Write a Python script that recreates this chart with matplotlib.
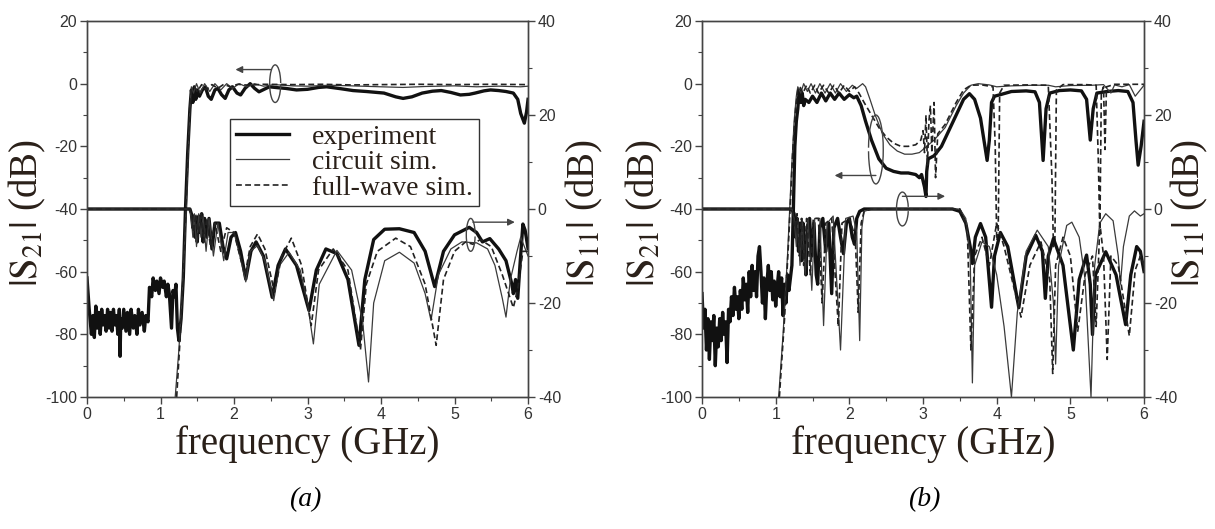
import numpy as np
import matplotlib.pyplot as plt
from matplotlib.patches import Arc
from matplotlib.ticker import MultipleLocator
from matplotlib.lines import Line2D

plt.rcParams['mathtext.fontset'] = 'stix'
plt.rcParams['axes.unicode_minus'] = False
SERIF = 'Liberation Serif'
SANS = 'Liberation Sans'
TXT = '#2a2019'

# ---------------- panel (a) ----------------
# |S21| (left axis, dB)
a_s21_exp_f = [0.00, 0.03, 0.06, 0.08, 0.10, 0.12, 0.14, 0.16, 0.18, 0.20, 0.22, 0.24, 0.26, 0.28, 0.30,
               0.32, 0.34, 0.36, 0.38, 0.40, 0.42, 0.44, 0.45, 0.46, 0.48, 0.50, 0.53, 0.55, 0.58, 0.60,
               0.63, 0.65, 0.68, 0.70, 0.72, 0.75, 0.78, 0.80, 0.83, 0.85, 0.88, 0.90, 0.93, 0.95, 0.98,
               1.00, 1.03, 1.05, 1.08, 1.10, 1.12, 1.15, 1.17, 1.19, 1.21, 1.23, 1.25, 1.28, 1.31, 1.34,
               1.37, 1.40, 1.42, 1.44, 1.46, 1.48, 1.50, 1.53, 1.57, 1.61, 1.65, 1.69, 1.74, 1.78, 1.83,
               1.88, 1.93, 1.98, 2.04, 2.09, 2.15, 2.22, 2.28, 2.34, 2.41, 2.48, 2.60, 2.70, 2.85, 3.00,
               3.15, 3.26, 3.45, 3.62, 3.80, 4.04, 4.20, 4.30, 4.42, 4.56, 4.70, 4.82, 4.95, 5.08, 5.20,
               5.28, 5.40, 5.49, 5.60, 5.70, 5.80, 5.86, 5.90, 5.95, 5.98, 6.00]
a_s21_exp = [-62, -72, -80, -74, -81, -71, -78, -73, -80, -72, -77, -74, -79, -72, -78,
             -73, -79, -72, -77, -74, -80, -72, -87, -75, -78, -72, -79, -73, -80, -72,
             -78, -74, -80, -72, -77, -73, -79, -74, -76, -65, -68, -62, -66, -63, -67,
             -62, -65, -63, -68, -64, -67, -78, -66, -68, -64, -78, -82, -75, -62, -40,
             -22, -8, -2, -6, -1, -5, -2, -4, -2, -1, -4, -5, -2, -1.5, -3.5,
             -4.7, -2, -1, -3, -3.6, -1.5, 0, -1.5, -2.6, -1.8, -1, -1.3, -1.5, -2, -1.8,
             -1.2, -1, -1.6, -2.2, -2.5, -3, -4.2, -4.7, -4.2, -3, -2.4, -2.2, -2.8, -3.6, -3.4,
             -3, -2.3, -2, -2.2, -2.5, -3, -5, -9.5, -12.6, -9, -5]
a_s21_cir_f = [1.20, 1.25, 1.30, 1.35, 1.38, 1.40, 1.42, 1.45, 1.49, 1.54, 1.60, 1.67, 1.74, 1.82, 1.90,
               1.98, 2.07, 2.17, 2.28, 2.40, 2.55, 2.80, 3.00, 3.30, 3.60, 4.00, 4.30, 4.60, 5.00, 5.30,
               5.60, 5.90, 6.00]
a_s21_cir = [-100, -85, -65, -40, -20, -8, -1, -3, 0, -3, 0, -2.5, 0, -2, 0,
             -1.5, 0, -1, 0, -0.8, -0.3, -0.7, -0.8, -0.5, -0.7, -1, -1.2, -0.9, -0.7, -1,
             -0.8, -1, -0.8]
a_s21_fw_f = [1.22, 1.27, 1.32, 1.36, 1.39, 1.42, 1.46, 1.50, 1.56, 1.62, 1.70, 1.78, 1.86, 1.95, 2.05,
              2.20, 2.40, 2.80, 3.20, 3.60, 4.00, 4.50, 5.00, 5.50, 6.00]
a_s21_fw = [-100, -80, -55, -30, -12, -2, -1, -2.5, -0.3, -2, -0.3, -1.5, -0.2, -1, -0.2,
            -0.5, -0.2, -0.3, -0.2, -0.4, -0.3, -0.2, -0.3, -0.2, -0.3]

# |S11| (right axis, dB)
a_s11_exp_f = [0.00, 1.40, 1.42, 1.44, 1.45, 1.47, 1.48, 1.50, 1.52, 1.54, 1.56, 1.58, 1.60, 1.63, 1.66,
               1.70, 1.74, 1.80, 1.85, 1.90, 1.96, 2.02, 2.09, 2.16, 2.23, 2.30, 2.40, 2.52, 2.60, 2.70,
               2.85, 3.02, 3.12, 3.25, 3.40, 3.55, 3.70, 3.78, 3.90, 4.05, 4.25, 4.45, 4.60, 4.73, 4.85,
               5.00, 5.20, 5.30, 5.38, 5.48, 5.60, 5.70, 5.78, 5.80, 5.83, 5.86, 5.89, 5.93, 5.96, 6.00]
a_s11_exp = [0, 0, -1, -4, -1.5, -6, -2, -7, -1.5, -5, -1, -7, -2, -6, -2,
             -8.5, -3, -3, -8, -10.6, -6, -5, -9, -14.9, -9, -7, -10, -18.8, -12, -8.5,
             -12, -21.6, -13, -8.5, -9.5, -15, -29, -15, -6.5, -4.3, -4.2, -5, -9, -16.5, -9,
             -5.5, -3.9, -5, -7, -6.3, -8.5, -11, -16, -18, -15, -19, -12, -3.2, -4.5, -8.4]
a_s11_cir_f = [0.00, 1.40, 1.42, 1.44, 1.46, 1.49, 1.52, 1.55, 1.58, 1.62, 1.66, 1.72, 1.78, 1.86, 1.92,
               2.00, 2.08, 2.16, 2.22, 2.32, 2.42, 2.54, 2.62, 2.75, 2.90, 3.00, 3.08, 3.16, 3.40, 3.60,
               3.75, 3.83, 3.90, 4.05, 4.25, 4.45, 4.60, 4.68, 4.78, 4.95, 5.10, 5.30, 5.45, 5.55, 5.65,
               5.70, 5.76, 5.85, 5.90, 5.95, 6.00]
a_s11_cir = [0, 0, -2, -6, -1, -8, -1, -6, -1.5, -9, -2, -10, -3, -11, -5,
             -5, -10, -15.5, -9, -7.8, -11, -19.5, -12, -9.2, -13, -20, -28.7, -16, -8.8, -13,
             -24, -36.8, -20, -11, -9.2, -11.5, -18, -23.7, -14, -8.5, -7, -7.2, -8.5, -12, -19,
             -23, -15, -9, -6, -8, -10]
a_s11_fw_f = [0.00, 1.40, 1.42, 1.45, 1.48, 1.51, 1.55, 1.59, 1.63, 1.68, 1.74, 1.82, 1.90, 2.00, 2.08,
              2.15, 2.22, 2.32, 2.42, 2.55, 2.65, 2.78, 2.92, 3.05, 3.15, 3.35, 3.55, 3.72, 3.80, 3.95,
              4.20, 4.40, 4.60, 4.75, 4.85, 5.00, 5.15, 5.25, 5.35, 5.50, 5.65, 5.80, 5.86, 5.93, 6.00]
a_s11_fw = [0, 0, -1, -5, -1, -6, -1, -7, -2, -8, -3, -9, -4, -5, -10,
            -14, -8, -5.3, -8.5, -17.7, -10, -6.2, -12, -24.8, -13, -8.5, -13, -30, -16, -9,
            -6.2, -8, -16, -29, -15, -9, -7, -7.5, -6.5, -8, -14, -21, -17, -9, -9]

# ---------------- panel (b) ----------------
b_s21_exp_f = [0.00, 0.02, 0.04, 0.06, 0.08, 0.10, 0.12, 0.14, 0.16, 0.18, 0.20, 0.22, 0.24, 0.26, 0.28,
               0.30, 0.32, 0.34, 0.36, 0.38, 0.40, 0.42, 0.44, 0.46, 0.48, 0.50, 0.52, 0.54, 0.56, 0.58,
               0.60, 0.62, 0.64, 0.66, 0.68, 0.70, 0.72, 0.74, 0.76, 0.78, 0.80, 0.82, 0.84, 0.86, 0.88,
               0.90, 0.92, 0.94, 0.96, 0.98, 1.00, 1.02, 1.04, 1.06, 1.08, 1.10, 1.12, 1.14, 1.16, 1.18,
               1.20, 1.22, 1.24, 1.26, 1.28, 1.30, 1.32, 1.34, 1.36, 1.38, 1.40, 1.45, 1.50, 1.56, 1.62,
               1.68, 1.74, 1.80, 1.86, 1.93, 2.00, 2.06, 2.10, 2.16, 2.22, 2.30, 2.40, 2.50, 2.60, 2.70,
               2.80, 2.90, 2.95, 2.98, 3.00, 3.02, 3.04, 3.05, 3.07, 3.15, 3.25, 3.35, 3.45, 3.55, 3.63,
               3.70, 3.78, 3.84, 3.87, 3.90, 3.93, 3.97, 4.05, 4.20, 4.40, 4.52, 4.58, 4.63, 4.67, 4.72,
               4.85, 5.00, 5.15, 5.22, 5.27, 5.31, 5.36, 5.50, 5.65, 5.78, 5.85, 5.89, 5.92, 5.96, 6.00]
b_s21_exp = [-67, -78, -72, -85, -75, -88, -76, -82, -74, -90, -78, -84, -75, -82, -73,
             -80, -76, -89, -72, -76, -68, -74, -65, -72, -68, -75, -66, -72, -62, -69,
             -64, -73, -60, -68, -58, -66, -60, -68, -55, -52, -60, -70, -62, -75, -64,
             -58, -66, -60, -69, -63, -71, -65, -60, -68, -62, -74, -64, -70, -61, -66,
             -62, -58, -40, -20, -12, -8, -2, -6, -3, -7, -5, -6, -4, -6, -3,
             -5.5, -3, -5, -3, -5, -3.5, -4.5, -4, -7, -12, -18, -24, -27, -28, -28.5,
             -28.5, -29, -30, -29, -31, -33, -36, -28, -24, -23, -20, -15, -10, -5, -3.2,
             -5, -11, -20, -24.5, -18, -6, -4, -3.5, -2.5, -2.3, -2.6, -6, -24.5, -8, -3,
             -2.2, -2, -2.3, -5, -18, -8, -3, -2.5, -2.2, -2.5, -6, -18, -26, -20, -12]
b_s21_cir_f = [1.04, 1.10, 1.16, 1.21, 1.25, 1.28, 1.30, 1.34, 1.38, 1.43, 1.48, 1.54, 1.60, 1.67, 1.74,
               1.81, 1.88, 1.96, 2.04, 2.10, 2.18, 2.22, 2.28, 2.35, 2.45, 2.55, 2.65, 2.75, 2.85, 2.95,
               3.05, 3.15, 3.30, 3.45, 3.55, 3.65, 3.75, 3.90, 4.00, 4.20, 4.50, 4.70, 4.80, 5.00, 5.30,
               5.45, 5.55, 5.60, 5.70, 5.80, 5.88, 6.00]
b_s21_cir = [-100, -80, -55, -30, -12, -4, -1, -3, 0, -2.5, 0, -3, 0, -3, 0,
             -3, 0, -2.5, -0.5, -1.5, 0, -1, -5, -10, -16, -19.5, -21.5, -22.5, -22.5, -22,
             -20, -18, -14, -7, -3, -0.5, 0, -0.4, -1, -0.7, -0.5, -0.5, -1, -0.6, -0.5,
             -0.3, -3, -0.4, -1, -0.3, -4, -0.5]
b_s21_fw_f = [1.05, 1.12, 1.18, 1.23, 1.27, 1.30, 1.33, 1.37, 1.42, 1.47, 1.53, 1.58, 1.65, 1.72, 1.79,
              1.86, 1.93, 2.00, 2.07, 2.13, 2.20, 2.30, 2.40, 2.50, 2.60, 2.70, 2.80, 2.90, 2.97, 3.00,
              3.02, 3.04, 3.06, 3.08, 3.10, 3.12, 3.15, 3.17, 3.20, 3.30, 3.45, 3.55, 3.65, 3.80, 3.95,
              3.98, 4.00, 4.02, 4.04, 4.10, 4.40, 4.70, 4.75, 4.77, 4.79, 4.81, 4.90, 5.20, 5.35, 5.38,
              5.40, 5.42, 5.45, 5.47, 5.49, 5.60, 6.00]
b_s21_fw = [-100, -75, -48, -22, -8, -2, -1, -3, -0.5, -3, -0.5, -3, -0.5, -3, -0.5,
            -3, -0.5, -2.5, -1, -3, -6, -10, -14, -17, -19, -20, -20, -19.5, -18, -15,
            -22, -10, -26, -12, -7, -22, -6, -30, -16, -13, -6, -2, -0.5, -0.4, -1,
            -20, -50, -48, -3, -0.5, -0.4, -0.5, -30, -52, -50, -2, -0.3, -0.3, -0.5, -25,
            -48, -3, -1, -21, -1, -0.2, -0.2]

b_s11_exp_f = [0.00, 1.22, 1.25, 1.27, 1.29, 1.31, 1.33, 1.35, 1.37, 1.39, 1.41, 1.43, 1.46, 1.49, 1.52,
               1.55, 1.57, 1.60, 1.64, 1.68, 1.72, 1.76, 1.79, 1.84, 1.88, 1.92, 1.96, 2.00, 2.04, 2.07,
               2.10, 2.14, 2.20, 3.40, 3.50, 3.58, 3.64, 3.67, 3.71, 3.78, 3.85, 3.93, 3.97, 4.05, 4.15,
               4.30, 4.40, 4.53, 4.62, 4.66, 4.70, 4.77, 4.90, 5.04, 5.12, 5.22, 5.27, 5.30, 5.34, 5.48,
               5.62, 5.75, 5.82, 5.90, 5.95, 6.00]
b_s11_exp = [0, 0, -1, -6, -2, -9, -3, -11, -3, -8, -14, -4, -2, -10, -3,
             -14, -16, -4, -2, -9, -3, -18, -4, -2, -6, -9.5, -3, -2, -6, -7.5,
             -2, -0.5, 0, 0, -0.5, -3, -8, -11.6, -6, -3.1, -6, -20.9, -10, -5, -8,
             -21, -10, -5.6, -9, -19, -10, -6.3, -12, -30, -15, -9.8, -16, -26.7, -14, -9.1,
             -14, -24.6, -14, -8, -9, -13.3]
b_s11_cir_f = [0.00, 1.22, 1.25, 1.28, 1.30, 1.33, 1.36, 1.40, 1.44, 1.49, 1.53, 1.60, 1.65, 1.70, 1.78,
               1.88, 1.95, 2.05, 2.10, 2.14, 2.17, 2.20, 2.30, 3.50, 3.58, 3.64, 3.67, 3.70, 3.80, 3.90,
               4.00, 4.10, 4.20, 4.28, 4.40, 4.55, 4.70, 4.77, 4.80, 4.84, 4.95, 5.02, 5.12, 5.20, 5.28,
               5.33, 5.40, 5.48, 5.58, 5.65, 5.68, 5.72, 5.80, 5.87, 5.95, 6.00]
b_s11_cir = [0, 0, -2, -8, -2, -12, -2, -14, -2, -17.3, -2, -2, -24.8, -3, -1.5,
             -30, -2, -1.5, -5, -28, -4, -0.5, 0, 0, -2, -10, -37, -12, -7, -8,
             -14, -25, -40, -22, -9, -4.5, -8, -20, -33, -12, -3.5, -2.8, -6, -15, -40,
             -12, -3, -1, -2.5, -10, -16, -8, -1.5, -0.4, -1.5, -1]
b_s11_fw_f = [0.00, 1.22, 1.26, 1.29, 1.32, 1.35, 1.38, 1.42, 1.47, 1.51, 1.58, 1.63, 1.68, 1.76, 1.85,
              1.90, 2.00, 2.08, 2.12, 2.16, 2.20, 2.30, 3.50, 3.60, 3.65, 3.70, 3.80, 3.90, 4.00, 4.10,
              4.33, 4.45, 4.60, 4.72, 4.76, 4.80, 4.90, 5.00, 5.10, 5.20, 5.30, 5.35, 5.40, 5.45, 5.50,
              5.55, 5.65, 5.80, 5.88, 5.95, 6.00]
b_s11_fw = [0, 0, -4, -1, -10, -2, -12, -2, -14, -2, -2, -20, -3, -2, -25,
            -3, -2, -6, -22, -3, -0.5, 0, 0, -4, -30, -10, -6, -12, -3, -8,
            -23, -12, -7, -15, -35, -12, -6, -10, -26, -14, -10, -25, -3, -10, -32,
            -10, -12, -27, -13, -10, -12]

# line styles: experiment / circuit sim. / full-wave sim.
STYLES = [dict(color='#111111', lw=2.4, ls='-'),
          dict(color='#3a3a3a', lw=0.9, ls='-'),
          dict(color='#222222', lw=1.2, ls=(0, (3.5, 2)))]


def curl(ax, xc, yc, w, h, t1, t2, x0, x1, y):
    ax.add_patch(Arc((xc, yc), w, h, theta1=t1, theta2=t2, color='#444444', lw=1.0, zorder=5))
    ax.annotate('', xy=(x1, y), xytext=(x0, y),
                arrowprops=dict(arrowstyle='-|>', color='#444444', lw=1.0,
                                mutation_scale=10, shrinkA=0, shrinkB=0), zorder=5)


def panel(rect, s21, s11, xl, xr):
    ax = fig.add_axes(rect)
    ax2 = ax.twinx()
    for (f, v), st in zip(s21, STYLES):
        ax.plot(f, v, **st)
    for (f, v), st in zip(s11, STYLES):
        ax2.plot(f, v, **st)
    ax.set_xlim(0, 6)
    ax.set_ylim(-100, 20)
    ax2.set_ylim(-40, 40)
    ax.xaxis.set_major_locator(MultipleLocator(1))
    ax.xaxis.set_minor_locator(MultipleLocator(0.5))
    ax.yaxis.set_major_locator(MultipleLocator(20))
    ax.yaxis.set_minor_locator(MultipleLocator(10))
    ax2.yaxis.set_major_locator(MultipleLocator(20))
    ax2.yaxis.set_minor_locator(MultipleLocator(10))
    for a in (ax, ax2):
        a.tick_params(which='major', direction='out', length=5, width=1, colors='#444444',
                      labelsize=11.5, labelcolor='#333333', pad=2)
        a.tick_params(which='minor', direction='out', length=3, width=0.8, colors='#444444')
        for lab in a.get_xticklabels() + a.get_yticklabels():
            lab.set_fontfamily(SANS)
        for sp in a.spines.values():
            sp.set_color('#444444')
            sp.set_linewidth(1.0)
    ax.set_xlabel('frequency (GHz)', fontsize=28, family=SERIF, labelpad=3, color=TXT)
    ax.set_ylabel(r'$|\mathrm{S}_{21}|$ (dB)', fontsize=28, family=SERIF, color=TXT)
    ax2.set_ylabel(r'$|\mathrm{S}_{11}|$ (dB)', fontsize=28, family=SERIF, color=TXT)
    ax.yaxis.set_label_coords(xl, 0.49)
    ax2.yaxis.set_label_coords(xr, 0.49)
    ax.yaxis.label.set_va('center')
    ax2.yaxis.label.set_va('center')
    return ax, ax2


fig = plt.figure(figsize=(12.15, 5.29), dpi=100)

# (a)
ax, ax2 = panel([0.0716, 0.2495, 0.3630, 0.7108],
                [(a_s21_exp_f, a_s21_exp), (a_s21_cir_f, a_s21_cir), (a_s21_fw_f, a_s21_fw)],
                [(a_s11_exp_f, a_s11_exp), (a_s11_cir_f, a_s11_cir), (a_s11_fw_f, a_s11_fw)],
                -0.134, 1.127)
curl(ax, 2.56, 0, 0.15, 12, 70, 290, 2.50, 2.02, 4.5)
curl(ax2, 5.22, -5.5, 0.12, 7, 80, 280, 5.25, 5.82, -2.8)
handles = [Line2D([], [], **st) for st in STYLES]
leg = ax.legend(handles, ['experiment', 'circuit sim.', 'full-wave sim.'],
                loc='upper left', bbox_to_anchor=(0.325, 0.74), frameon=True, fancybox=False,
                edgecolor='#333333', framealpha=1, borderpad=0.2, labelspacing=0.0,
                handlelength=1.9, handletextpad=0.85, borderaxespad=0,
                prop=dict(family=SERIF, size=20))
leg.get_frame().set_linewidth(1.0)
for t in leg.get_texts():
    t.set_color(TXT)

# (b)
bx, bx2 = panel([0.5778, 0.2495, 0.3638, 0.7108],
                [(b_s21_exp_f, b_s21_exp), (b_s21_cir_f, b_s21_cir), (b_s21_fw_f, b_s21_fw)],
                [(b_s11_exp_f, b_s11_exp), (b_s11_cir_f, b_s11_cir), (b_s11_fw_f, b_s11_fw)],
                -0.13, 1.102)
curl(bx, 2.36, -21, 0.2, 22, -100, 100, 2.36, 1.80, -29.3)
curl(bx2, 2.72, 0, 0.16, 7.2, 80, 280, 2.72, 3.30, 2.7)

fig.text(0.251, 0.055, '(a)', fontsize=20, family=SERIF, style='italic', ha='center', va='center')
fig.text(0.761, 0.055, '(b)', fontsize=20, family=SERIF, style='italic', ha='center', va='center')

fig.savefig('out.png', dpi=100)
